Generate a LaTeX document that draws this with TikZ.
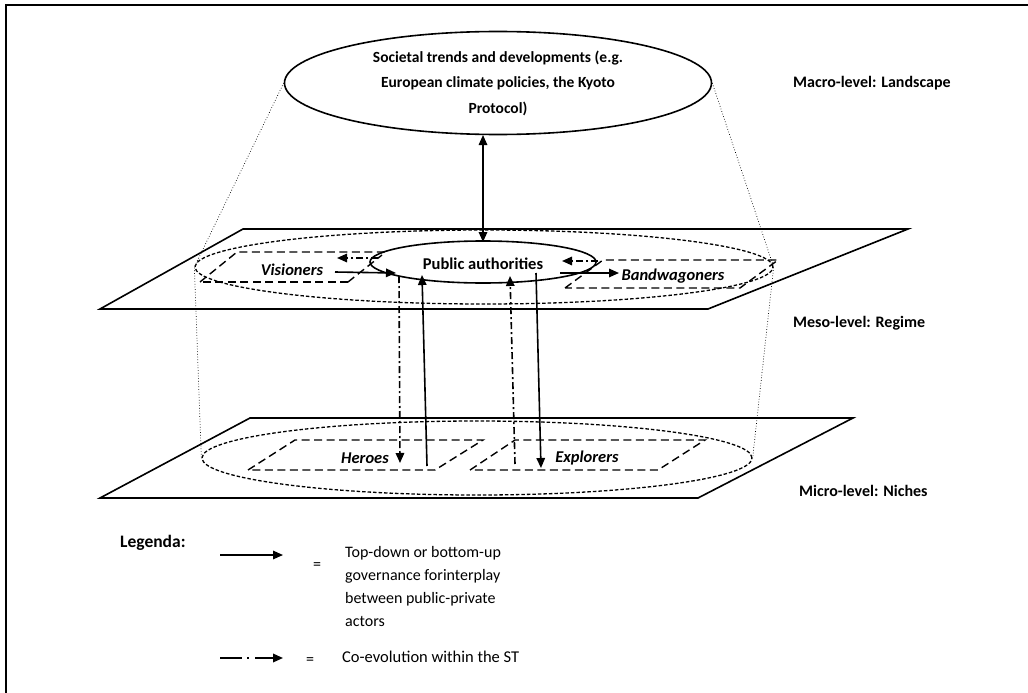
\documentclass[tikz,border=0pt]{standalone}
\usepackage{fontspec}
\setmainfont{Carlito}
\usetikzlibrary{arrows.meta,shapes.geometric}
\begin{document}
\begin{tikzpicture}[x=1pt,y=-1pt,
 plane/.style={draw, line width=1.6pt, line join=miter},
 dellipse/.style={draw, ellipse, dash pattern=on 3.5pt off 2pt, line width=1.3pt, inner sep=0pt},
 pgram/.style={draw, dash pattern=on 8pt off 4.5pt, line width=1.4pt},
 tip/.style={},
 solidarr/.style={line width=1.6pt, -{Triangle[length=10pt,width=8.5pt]}},
 dasharr/.style={line width=1.6pt, dash pattern=on 7pt off 3pt on 2pt off 3pt, -{Triangle[length=10pt,width=8.5pt]}},
 lbl/.style={font=\fontsize{16}{19}\selectfont\bfseries, anchor=west, inner sep=0pt},
 actor/.style={font=\fontsize{16.5}{19}\selectfont\bfseries\itshape, inner sep=0pt},
 legtxt/.style={font=\fontsize{16}{23}\selectfont, anchor=north west, align=left, inner sep=0pt},
 guide/.style={dotted, line width=0.7pt}]
\useasboundingbox (0,0) rectangle (1028,693);
\fill[white] (0,0) rectangle (1028,693);
% frame
\draw[line width=1.6pt] (6,693) -- (6,5) -- (1028,5);

% planes
\draw[plane] (100,309) -- (243,229) -- (908,229) -- (708,309) -- cycle;
\draw[plane] (100,498) -- (250,418) -- (853,418) -- (698,498) -- cycle;

% ellipses
\node[draw, ellipse, line width=1.6pt, minimum width=427pt, minimum height=103pt, inner sep=0pt] (land) at (498,83) {};
\node[align=center, font=\fontsize{15.5}{25.5}\selectfont\bfseries] (landtxt) at (498,83)
 {Societal trends and developments (e.g.\\European climate policies, the Kyoto\\Protocol)};
\node[dellipse, minimum width=578pt, minimum height=74pt] (meso) at (484,267) {};
\node[dellipse, minimum width=550pt, minimum height=74pt] (niche) at (477,458) {};

% guide lines
\draw[guide] (land.west) -- (meso.west) -- (niche.west);
\draw[guide] (land.east) -- (meso.east) -- (niche.east);

% actor parallelograms
\draw[pgram] (200,282) -- (237,252) -- (388,252);
\draw[pgram] (348,282) -- (200,282);
\draw[pgram] (348,282) -- (382,255);
\draw[pgram] (565,288) -- (603,260) -- (778,260) -- (740,288) -- cycle;
\draw[pgram] (248,470) -- (295,440) -- (483,440) -- (435,470) -- cycle;
\draw[pgram] (470,470) -- (515,440) -- (705,440) -- (658,470) -- cycle;

% public authorities
\node[draw, ellipse, line width=1.6pt, minimum width=226pt, minimum height=42pt, inner sep=0pt] (pa) at (483,262) {};
\node[font=\fontsize{16.5}{19}\selectfont\bfseries] (patxt) at (483,264) {Public authorities};

% actor labels
\node[actor] (vis) at (292,270) {Visioners};
\node[actor] (band) at (673,276) {Bandwagoners};
\node[actor] (her) at (365,458) {Heroes};
\node[actor] (exp) at (587,458) {Explorers};

% coordinates for connectors
\coordinate (a1) at (483,135);
\coordinate (a2) at (483,242);
\coordinate (v1) at (335,272);
\coordinate (v2) at (396,273);
\coordinate (v3) at (378,258);
\coordinate (v4) at (337,258);
\coordinate (b1) at (560,273);
\coordinate (b2) at (619,273);
\coordinate (b3) at (598,261);
\coordinate (b4) at (562,261);
\coordinate (h1) at (399,276);
\coordinate (h2) at (400,463);
\coordinate (h3) at (427,466);
\coordinate (h4) at (422,275);
\coordinate (e1) at (515,464);
\coordinate (e2) at (510,276);
\coordinate (e3) at (536,273);
\coordinate (e4) at (541,468);

\draw[solidarr, {Triangle[length=10pt,width=8.5pt]}-{Triangle[length=10pt,width=8.5pt]}] (a1) -- (a2);
\draw[solidarr] (v1) -- (v2);
\draw[dasharr] (v3) -- (v4);
\draw[solidarr] (b1) -- (b2);
\draw[dasharr] (b3) -- (b4);
\draw[dasharr] (h1) -- (h2);
\draw[solidarr] (h3) -- (h4);
\draw[dasharr] (e1) -- (e2);
\draw[solidarr] (e3) -- (e4);

% level labels
\node[lbl] (macro) at (793,83) {Macro-level: Landscape};
\node[lbl] (mesol) at (793,323) {Meso-level: Regime};
\node[lbl] (micro) at (799,491) {Micro-level: Niches};

% legend
\node[lbl, font=\fontsize{17.5}{20}\selectfont\bfseries] (leg) at (120,543) {Legenda:};
\coordinate (l1a) at (220,555);
\coordinate (l1b) at (283,555);
\draw[solidarr] (l1a) -- (l1b);
\node[font=\fontsize{16}{18}\selectfont] (eq1) at (317,566) {=};
\node[legtxt] (lt1) at (345,546) {Top-down or bottom-up\\governance forinterplay\\between public-private\\actors};
\coordinate (l2a) at (220,658);
\coordinate (l2b) at (283,658);
\draw[line width=1.8pt, dash pattern=on 22pt off 5pt on 2pt off 6pt, -{Triangle[length=10pt,width=8.5pt]}] (l2a) -- (l2b);
\node[font=\fontsize{16}{18}\selectfont] (eq2) at (310,661) {=};
\node[font=\fontsize{16.5}{18}\selectfont, anchor=west, inner sep=0pt] (lt2) at (342,657) {Co-evolution within the ST};
\end{tikzpicture}
\end{document}
